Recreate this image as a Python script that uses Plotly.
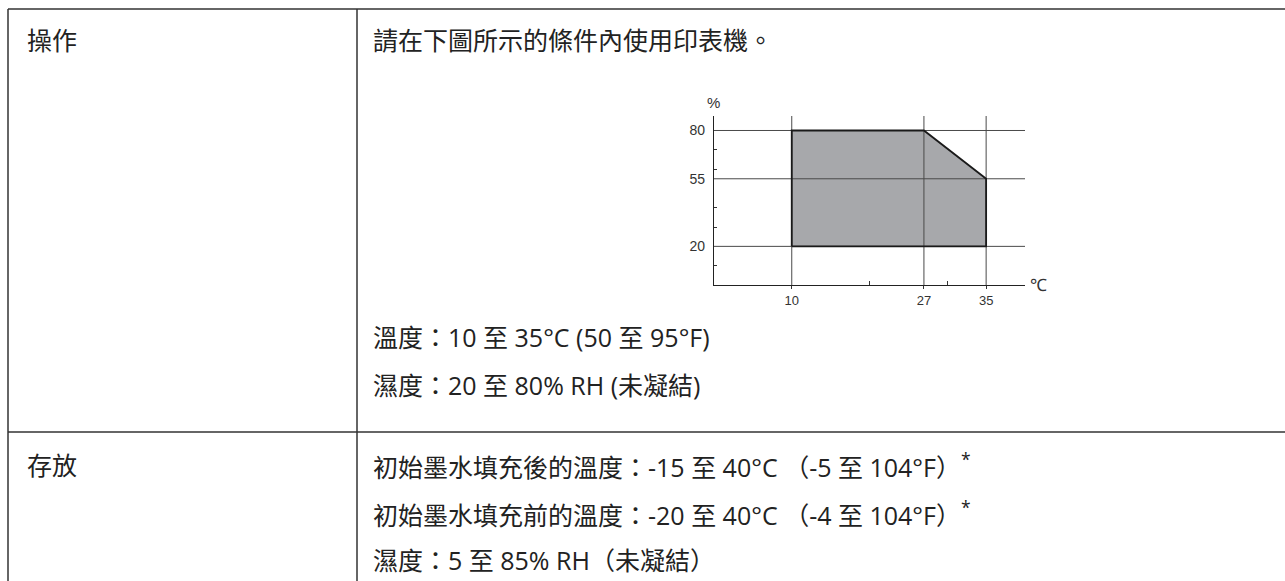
import plotly.graph_objects as go

# ---- data ----
area_temp = [10, 10, 27, 35, 35, 10]      # °C, outline of operating area
area_humid = [20, 80, 80, 55, 20, 20]     # % RH
x_ticks = [10, 27, 35]
x_minor = [20, 30]
y_ticks = [20, 55, 80]
y_minor = [10, 30, 40, 60, 70]
x_range = [0, 40]
y_range = [0, 87.5]

row_labels = ["操作", "存放"]
op_lines = [
    "請在下圖所示的條件內使用印表機。",
    "溫度：10 至 35°C (50 至 95°F)",
    "濕度：20 至 80% RH (未凝結)",
]
store_lines = [
    "初始墨水填充後的溫度：-15 至 40°C （-5 至 104°F）<sup>*</sup>",
    "初始墨水填充前的溫度：-20 至 40°C （-4 至 104°F）<sup>*</sup>",
    "濕度：5 至 85% RH（未凝結）",
]

W, H = 1285, 581
def px(x):
    return x / W
def py(y):
    return 1 - y / H

CJK = "Open Sans, Noto Sans CJK TC, Noto Sans, sans-serif"
NARROW = "Liberation Sans Narrow, Arial Narrow, Liberation Sans, Arial, sans-serif"
TXT = 25

fig = go.Figure()

# filled area
fig.add_trace(go.Scatter(x=area_temp, y=area_humid, mode="lines", fill="toself",
                         fillcolor="#a7a8ab", line=dict(width=0), hoverinfo="skip",
                         showlegend=False))
# grid lines (on top of fill)
for v in y_ticks:
    fig.add_trace(go.Scatter(x=x_range, y=[v, v], mode="lines",
                             line=dict(color="#4a4a4a", width=1), hoverinfo="skip",
                             showlegend=False))
for v in x_ticks:
    fig.add_trace(go.Scatter(x=[v, v], y=y_range, mode="lines",
                             line=dict(color="#4a4a4a", width=1), hoverinfo="skip",
                             showlegend=False))
# outline
fig.add_trace(go.Scatter(x=area_temp, y=area_humid, mode="lines",
                         line=dict(color="#1a1a1a", width=1.8), hoverinfo="skip",
                         showlegend=False))

fig.update_xaxes(domain=[px(714), px(1025)], range=x_range, showgrid=False, zeroline=False,
                 showline=True, linecolor="#222222", linewidth=1.3,
                 tickmode="array", tickvals=x_ticks, ticktext=[str(v) for v in x_ticks],
                 ticks="outside", ticklen=3, tickcolor="#333333",
                 tickfont=dict(family=NARROW, size=13, color="#333333"),
                 minor=dict(tickmode="array", tickvals=x_minor, ticks="inside", ticklen=4,
                            tickcolor="#333333", showgrid=False),
                 fixedrange=True)
fig.update_yaxes(domain=[py(285), py(116)], range=y_range, showgrid=False, zeroline=False,
                 showline=True, linecolor="#222222", linewidth=1.3,
                 tickmode="array", tickvals=y_ticks, ticktext=[str(v) for v in y_ticks],
                 ticks="", ticklabelstandoff=5,
                 tickfont=dict(family=NARROW, size=14, color="#333333"),
                 minor=dict(tickmode="array", tickvals=y_minor, ticks="inside", ticklen=3,
                            tickcolor="#333333", showgrid=False),
                 fixedrange=True)

annotations = [
    dict(x=px(713), y=py(103), text="%", xanchor="center", yanchor="middle",
         font=dict(family=NARROW, size=15, color="#333333")),
    dict(x=px(1038), y=py(285), text="℃", xanchor="center", yanchor="middle",
         font=dict(family=NARROW, size=17, color="#333333")),
]
for a in annotations:
    a.update(xref="paper", yref="paper", showarrow=False)

def txt(x, y, s):
    return dict(x=px(x), y=py(y), xref="paper", yref="paper", text=s, showarrow=False,
                xanchor="left", yanchor="middle", align="left",
                font=dict(family=CJK, size=TXT, color="#222222"))

annotations.append(txt(25, 40, row_labels[0]))
annotations.append(txt(25, 465, row_labels[1]))
for y, s in zip([40, 337, 385], op_lines):
    annotations.append(txt(371, y, s))
for y, s in zip([465, 513, 560], store_lines):
    annotations.append(txt(371, y, s))

line_style = dict(color="#333333", width=1.5)
shapes = [
    dict(type="line", xref="paper", yref="paper", x0=px(8), x1=1, y0=py(9), y1=py(9), line=line_style),
    dict(type="line", xref="paper", yref="paper", x0=px(8), x1=1, y0=py(432), y1=py(432), line=line_style),
    dict(type="line", xref="paper", yref="paper", x0=px(8), x1=px(8), y0=py(9), y1=0, line=line_style),
    dict(type="line", xref="paper", yref="paper", x0=px(357), x1=px(357), y0=py(9), y1=0, line=line_style),
]

fig.update_layout(width=W, height=H, margin=dict(l=0, r=0, t=0, b=0),
                  paper_bgcolor="white", plot_bgcolor="white",
                  annotations=annotations, shapes=shapes, showlegend=False)

fig.write_html("out.html", config={"displayModeBar": False},
               post_script="document.body.style.margin='0';")
